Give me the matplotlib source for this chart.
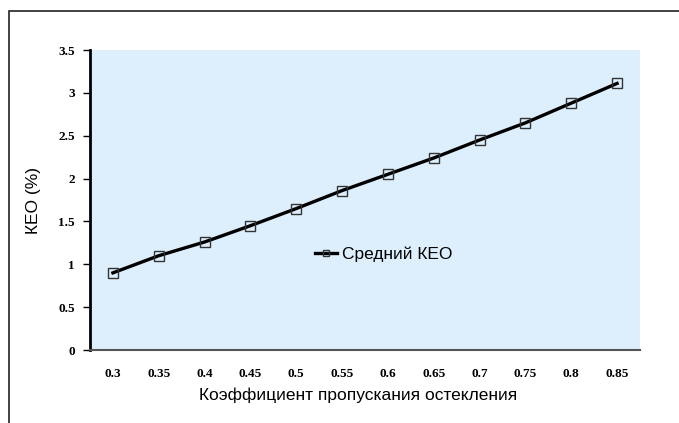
import matplotlib
matplotlib.use("Agg")
import matplotlib.pyplot as plt
from matplotlib.patches import Rectangle

# Glazing transmittance categories and mean daylight factor
categories = ["0.3", "0.35", "0.4", "0.45", "0.5", "0.55", "0.6",
              "0.65", "0.7", "0.75", "0.8", "0.85"]
keo_mean = [0.90, 1.10, 1.26, 1.45, 1.65, 1.86, 2.05,
            2.24, 2.45, 2.65, 2.88, 3.11]
y_ticks = [0, 0.5, 1, 1.5, 2, 2.5, 3, 3.5]
y_tick_labels = ["0", "0.5", "1", "1.5", "2", "2.5", "3", "3.5"]

W, H = 679, 423
fig = plt.figure(figsize=(W / 100, H / 100), dpi=100)
fig.patch.set_facecolor("white")

# Outer chart frame (only left and top edges fall inside the image)
fig.patches.append(Rectangle((9 / W, -0.05), 1.2, (H - 11) / H + 0.05,
                             transform=fig.transFigure, fill=False,
                             edgecolor="#222222", linewidth=1.2))

ax = fig.add_axes([90 / W, 1 - 350 / H, 550 / W, 300 / H])
ax.set_facecolor("#DDEFFC")

x = list(range(len(categories)))
ax.plot(x, keo_mean, color="black", linewidth=2.4, marker="s",
        markersize=7, markerfacecolor="none", markeredgecolor="#333333",
        markeredgewidth=1.0, label="Средний КЕО")

ax.set_xlim(-0.5, len(categories) - 0.5)
ax.set_ylim(0, 3.5)
ax.set_xticks(x)
ax.set_xticklabels(categories, family="Liberation Serif", weight="bold",
                   fontsize=9.5)
ax.set_yticks(y_ticks)
ax.set_yticklabels(y_tick_labels, family="Liberation Serif", weight="bold",
                   fontsize=9.5)
ax.tick_params(axis="x", length=0, pad=13)
ax.tick_params(axis="y", length=5, width=1, direction="out", pad=6)

for side in ("top", "right"):
    ax.spines[side].set_visible(False)
ax.spines["left"].set_linewidth(2)
ax.spines["left"].set_color("black")
ax.spines["bottom"].set_linewidth(1.5)
ax.spines["bottom"].set_color("#555555")

ax.set_xlabel("Коэффициент пропускания остекления", family="Liberation Sans",
              fontsize=12.5, labelpad=7)
ax.xaxis.set_label_coords(0.487, -0.125)
ax.set_ylabel("КЕО (%)", family="Liberation Sans", fontsize=12.5, labelpad=12)

leg = ax.legend(loc="center left", bbox_to_anchor=(0.38, 0.32),
                frameon=False, prop={"family": "Liberation Sans", "size": 12.5},
                handlelength=1.3, handletextpad=0.3, markerscale=0.7)

fig.savefig("out.png", dpi=100)
